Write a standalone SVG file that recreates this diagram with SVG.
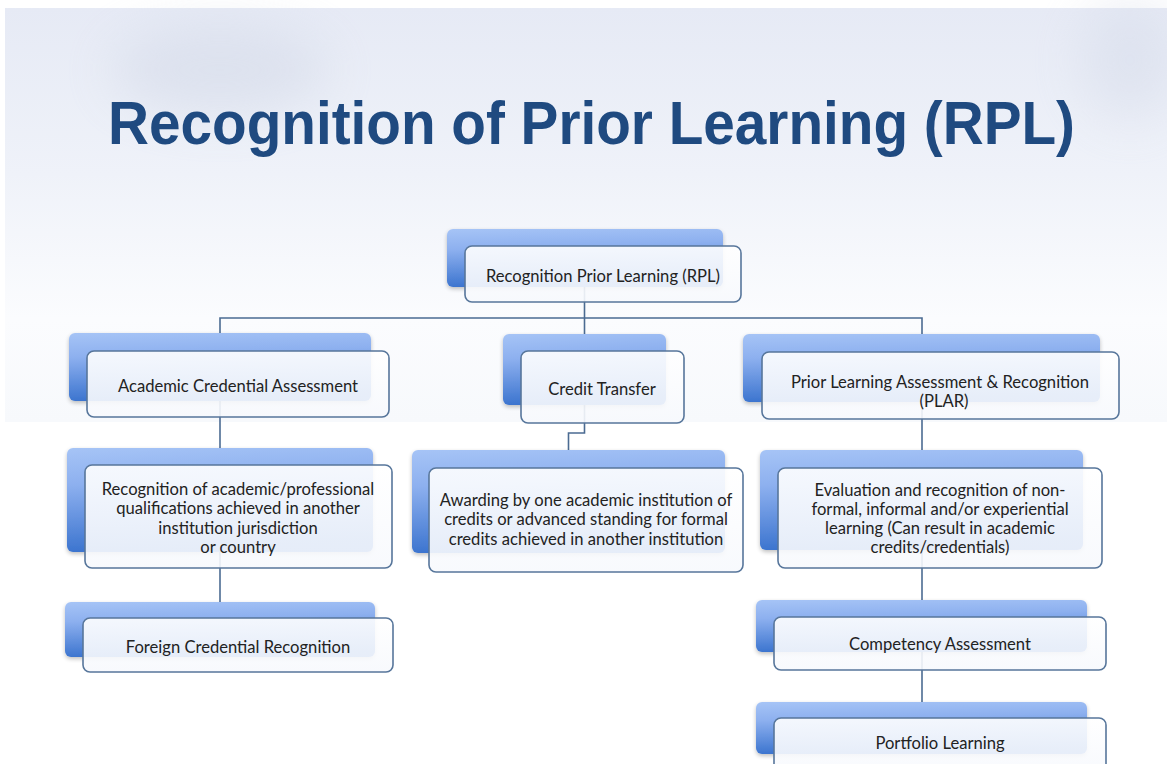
<svg xmlns="http://www.w3.org/2000/svg" width="1167" height="764" viewBox="0 0 1167 764">
  <defs>
    <linearGradient id="bg" x1="0" y1="0" x2="0" y2="1">
      <stop offset="0" stop-color="#e6eaf5"/>
      <stop offset="0.4" stop-color="#eff2f9"/>
      <stop offset="0.75" stop-color="#fbfcfe"/>
      <stop offset="1" stop-color="#f7f9fc"/>
    </linearGradient>
    <linearGradient id="tab" x1="0" y1="0" x2="0.15" y2="1">
      <stop offset="0" stop-color="#a6c4f6"/>
      <stop offset="0.35" stop-color="#8db0ef"/>
      <stop offset="1" stop-color="#3a73ce"/>
    </linearGradient>
    <linearGradient id="card" x1="0" y1="0" x2="0" y2="1">
      <stop offset="0" stop-color="#ffffff"/>
      <stop offset="1" stop-color="#f7f9fd"/>
    </linearGradient>
    <filter id="soft" x="-10%" y="-10%" width="120%" height="130%">
      <feGaussianBlur in="SourceAlpha" stdDeviation="2"/>
      <feOffset dx="0" dy="2" result="b"/>
      <feComponentTransfer><feFuncA type="linear" slope="0.25"/></feComponentTransfer>
      <feMerge><feMergeNode/><feMergeNode in="SourceGraphic"/></feMerge>
    </filter>
    <filter id="haze" x="-50%" y="-50%" width="200%" height="200%">
      <feGaussianBlur stdDeviation="25"/>
    </filter>
  </defs>
  <style>
    .tab { fill: url(#tab); }
    .card { fill: url(#card); fill-opacity: 0.9; stroke: #57769b; stroke-width: 1.6; }
    .lbl { font-family: Lato, "Liberation Sans", sans-serif; font-size: 16.6px; fill: #222222; text-anchor: middle; }
    .wire { fill: none; stroke: #4b6b92; stroke-width: 1.6; }
    .title { font-family: "Liberation Sans", Arial, sans-serif; font-weight: bold; font-size: 61px; fill: #1f4a80; }
  </style>

  <!-- page background -->
  <rect width="1167" height="764" fill="#ffffff"/>
  <rect x="5" y="8" width="1162" height="414" fill="url(#bg)"/>
  <g filter="url(#haze)" opacity="0.45">
    <ellipse cx="220" cy="70" rx="110" ry="45" fill="#cdd4e4"/>
    <ellipse cx="1130" cy="60" rx="50" ry="60" fill="#d3d9e8"/>
  </g>

  <!-- title -->
  <text class="title" x="108" y="144" textLength="967" lengthAdjust="spacingAndGlyphs">Recognition of Prior Learning (RPL)</text>

  <!-- connectors -->
  <g id="connectors" class="wire">
    <path d="M584.5,286 V318"/>
    <path d="M220,334 V318 H922 V334"/>
    <path d="M584.5,318 V334"/>
    <path d="M220,401 V448"/>
    <path d="M220,552 V602"/>
    <path d="M584.5,405 V433 H568.5 V450"/>
    <path d="M922,402 V450"/>
    <path d="M922,550 V600"/>
    <path d="M922,652 V702"/>
  </g>

  <!-- root -->
  <g id="node-rpl">
    <rect class="tab" x="447" y="229" width="276" height="58" rx="6" filter="url(#soft)"/>
    <rect class="card" x="465" y="246" width="276" height="56" rx="7"/>
    <text class="lbl" x="603" y="281.5">Recognition Prior Learning (RPL)</text>
  </g>

  <!-- level 1 -->
  <g id="node-academic">
    <rect class="tab" x="69" y="333" width="302" height="68" rx="6" filter="url(#soft)"/>
    <rect class="card" x="87" y="351" width="302" height="66" rx="7"/>
    <text class="lbl" x="238" y="391.5">Academic Credential Assessment</text>
  </g>

  <g id="node-credit">
    <rect class="tab" x="503" y="334" width="163" height="71" rx="6" filter="url(#soft)"/>
    <rect class="card" x="521" y="351" width="163" height="72" rx="7"/>
    <text class="lbl" x="602" y="394.5">Credit Transfer</text>
  </g>

  <g id="node-plar">
    <rect class="tab" x="743" y="334" width="357" height="68" rx="6" filter="url(#soft)"/>
    <rect class="card" x="762" y="352" width="357" height="67" rx="7"/>
    <text class="lbl" x="940" y="387.5">Prior Learning Assessment &amp; Recognition</text>
    <text class="lbl" x="944" y="406.5">(PLAR)</text>
  </g>

  <!-- level 2 -->
  <g id="node-recognition">
    <rect class="tab" x="67" y="448" width="306" height="104" rx="6" filter="url(#soft)"/>
    <rect class="card" x="85" y="465" width="307" height="103" rx="7"/>
    <text class="lbl" x="238" y="494.5">Recognition of academic/professional</text>
    <text class="lbl" x="238" y="514">qualifications achieved in another</text>
    <text class="lbl" x="238" y="533.5">institution jurisdiction</text>
    <text class="lbl" x="238" y="553">or country</text>
  </g>

  <g id="node-awarding">
    <rect class="tab" x="412" y="450" width="313" height="103" rx="6" filter="url(#soft)"/>
    <rect class="card" x="429" y="468" width="314" height="104" rx="7"/>
    <text class="lbl" x="586" y="505.5">Awarding by one academic institution of</text>
    <text class="lbl" x="586" y="525">credits or advanced standing for formal</text>
    <text class="lbl" x="586" y="544.5">credits achieved in another institution</text>
  </g>

  <g id="node-evaluation">
    <rect class="tab" x="760" y="450" width="323" height="100" rx="6" filter="url(#soft)"/>
    <rect class="card" x="778" y="468" width="324" height="100" rx="7"/>
    <text class="lbl" x="940" y="495.5">Evaluation and recognition of non-</text>
    <text class="lbl" x="940" y="514.5">formal, informal and/or experiential</text>
    <text class="lbl" x="940" y="533.5">learning (Can result in academic</text>
    <text class="lbl" x="940" y="552.5">credits/credentials)</text>
  </g>

  <!-- level 3 -->
  <g id="node-foreign">
    <rect class="tab" x="65" y="602" width="310" height="55" rx="6" filter="url(#soft)"/>
    <rect class="card" x="83" y="618" width="310" height="54" rx="7"/>
    <text class="lbl" x="238" y="652.5">Foreign Credential Recognition</text>
  </g>

  <g id="node-competency">
    <rect class="tab" x="756" y="600" width="331" height="52" rx="6" filter="url(#soft)"/>
    <rect class="card" x="774" y="617" width="332" height="53" rx="7"/>
    <text class="lbl" x="940" y="649.5">Competency Assessment</text>
  </g>

  <g id="node-portfolio">
    <rect class="tab" x="756" y="702" width="331" height="52" rx="6" filter="url(#soft)"/>
    <rect class="card" x="774" y="718" width="332" height="54" rx="7"/>
    <text class="lbl" x="940" y="748.5">Portfolio Learning</text>
  </g>
</svg>
